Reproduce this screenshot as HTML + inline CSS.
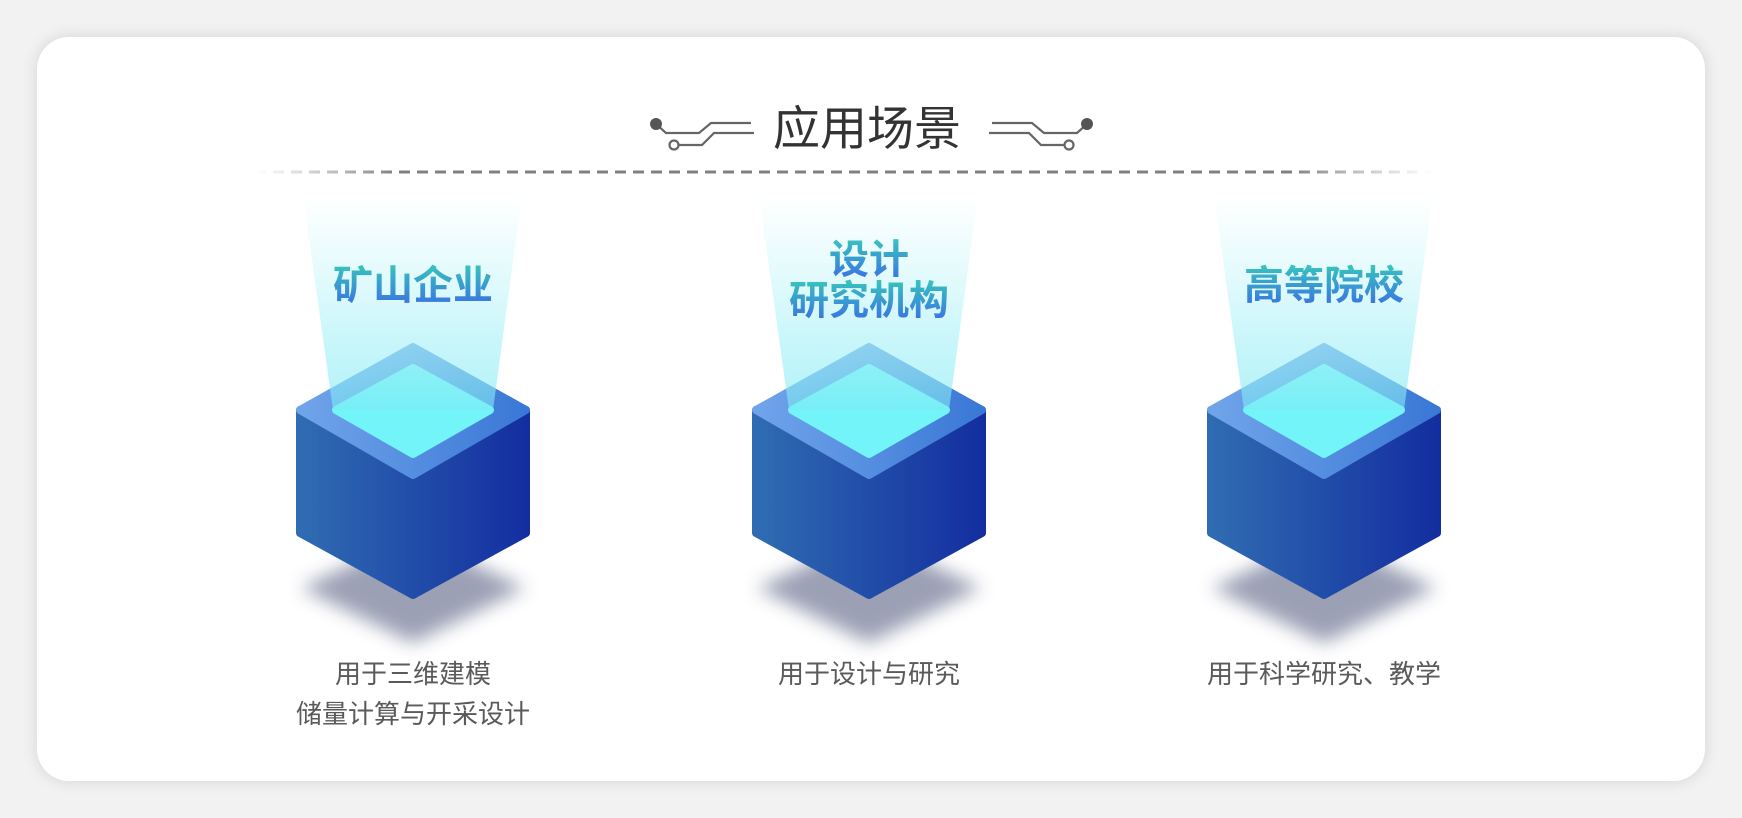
<!DOCTYPE html>
<html><head><meta charset="utf-8"><style>
html,body{margin:0;padding:0;width:1742px;height:818px;background:#f2f2f2;overflow:hidden}
svg{display:block}
text{font-family:"Liberation Sans","Noto Sans CJK SC",sans-serif}
</style></head><body>
<svg width="1742" height="818" viewBox="0 0 1742 818" xmlns="http://www.w3.org/2000/svg">
<defs>
<filter id="cs" x="-10%" y="-10%" width="120%" height="120%"><feGaussianBlur stdDeviation="8"/></filter>
<filter id="sh" x="-30%" y="-50%" width="160%" height="200%"><feGaussianBlur stdDeviation="9"/></filter>
<linearGradient id="dl" gradientUnits="userSpaceOnUse" x1="255" y1="0" x2="1433" y2="0"><stop offset="0" stop-color="#999" stop-opacity="0"/><stop offset="0.12" stop-color="#808080"/><stop offset="0.88" stop-color="#808080"/><stop offset="1" stop-color="#999" stop-opacity="0"/></linearGradient>
<linearGradient id="side" x1="0" x2="1"><stop offset="0" stop-color="#2f6cb2"/><stop offset="1" stop-color="#142ea0"/></linearGradient>
<linearGradient id="top" x1="0" x2="1"><stop offset="0" stop-color="#70a4ea"/><stop offset="1" stop-color="#3a78d6"/></linearGradient>
<linearGradient id="beam" x1="0" y1="0" x2="0" y2="1"><stop offset="0" stop-color="#ffffff" stop-opacity="0.9"/><stop offset="0.5" stop-color="#c8f6fa"/><stop offset="1" stop-color="#7eeaf4" stop-opacity="0.85"/></linearGradient>
<linearGradient id="tt" x1="0" y1="0" x2="0" y2="1"><stop offset="0" stop-color="#38c6bc"/><stop offset="1" stop-color="#3a6ee6"/></linearGradient>
<g id="cube">
 <path d="M-112 245 L0 300 L112 245 L0 192 Z" fill="#5a6284" opacity="0.6" filter="url(#sh)"/>
 <path d="M-113 67 L0 135 L113 67 L113 190 L0 252 L-113 190 Z" fill="url(#side)" stroke="url(#side)" stroke-width="8" stroke-linejoin="round"/>
 <path d="M0 4 L113 67 L0 132 L-113 67 Z" fill="url(#top)" stroke="url(#top)" stroke-width="8" stroke-linejoin="round"/>
 <path d="M0 25 L77 67 L0 111 L-77 67 Z" fill="#72f4f8" stroke="#72f4f8" stroke-width="8" stroke-linejoin="round"/>
</g>
</defs>
<rect x="37" y="37" width="1668" height="744" rx="32" fill="#000" opacity="0.12" filter="url(#cs)"/>
<rect x="37" y="37" width="1668" height="744" rx="32" fill="#fff"/>
<g fill="none" stroke="#666" stroke-width="2.2">
 <path d="M656 124 L666 133 L699 133 L711 123 L751 123"/>
 <path d="M678 145 L702 145 L714 133 L754 133"/>
 <path d="M1087 124 L1077 133 L1044 133 L1032 123 L992 123"/>
 <path d="M1065 145 L1041 145 L1029 133 L989 133"/>
 <circle cx="674" cy="145" r="4.5" fill="#fff"/>
 <circle cx="1069" cy="145" r="4.5" fill="#fff"/>
</g>
<circle cx="656" cy="124" r="6" fill="#555"/>
<circle cx="1087" cy="124" r="6" fill="#555"/>
<text x="867" y="145" text-anchor="middle" font-size="47" fill="#333">应用场景</text>
<line x1="255" y1="172" x2="1433" y2="172" stroke="url(#dl)" stroke-width="3" stroke-dasharray="11,7"/>
<use href="#cube" transform="translate(413,343)"/>
<use href="#cube" transform="translate(869,343)"/>
<use href="#cube" transform="translate(1324,343)"/>
<path d="M303 195 L522 195 L493 410 L333 410 Z" fill="url(#beam)" opacity="0.7"/>
<path d="M759 195 L978 195 L949 410 L789 410 Z" fill="url(#beam)" opacity="0.7"/>
<path d="M1214 195 L1433 195 L1404 410 L1244 410 Z" fill="url(#beam)" opacity="0.7"/>
<text x="413" y="299" text-anchor="middle" font-size="40" font-weight="bold" fill="url(#tt)">矿山企业</text>
<text x="869" y="273" text-anchor="middle" font-size="40" font-weight="bold" fill="url(#tt)">设计</text>
<text x="869" y="314" text-anchor="middle" font-size="40" font-weight="bold" fill="url(#tt)">研究机构</text>
<text x="1324" y="299" text-anchor="middle" font-size="40" font-weight="bold" fill="url(#tt)">高等院校</text>
<g font-size="26" fill="#5a5a5a" text-anchor="middle">
<text x="413" y="683">用于三维建模</text>
<text x="413" y="723">储量计算与开采设计</text>
<text x="869" y="683">用于设计与研究</text>
<text x="1324" y="683">用于科学研究、教学</text>
</g>
</svg>
</body></html>
